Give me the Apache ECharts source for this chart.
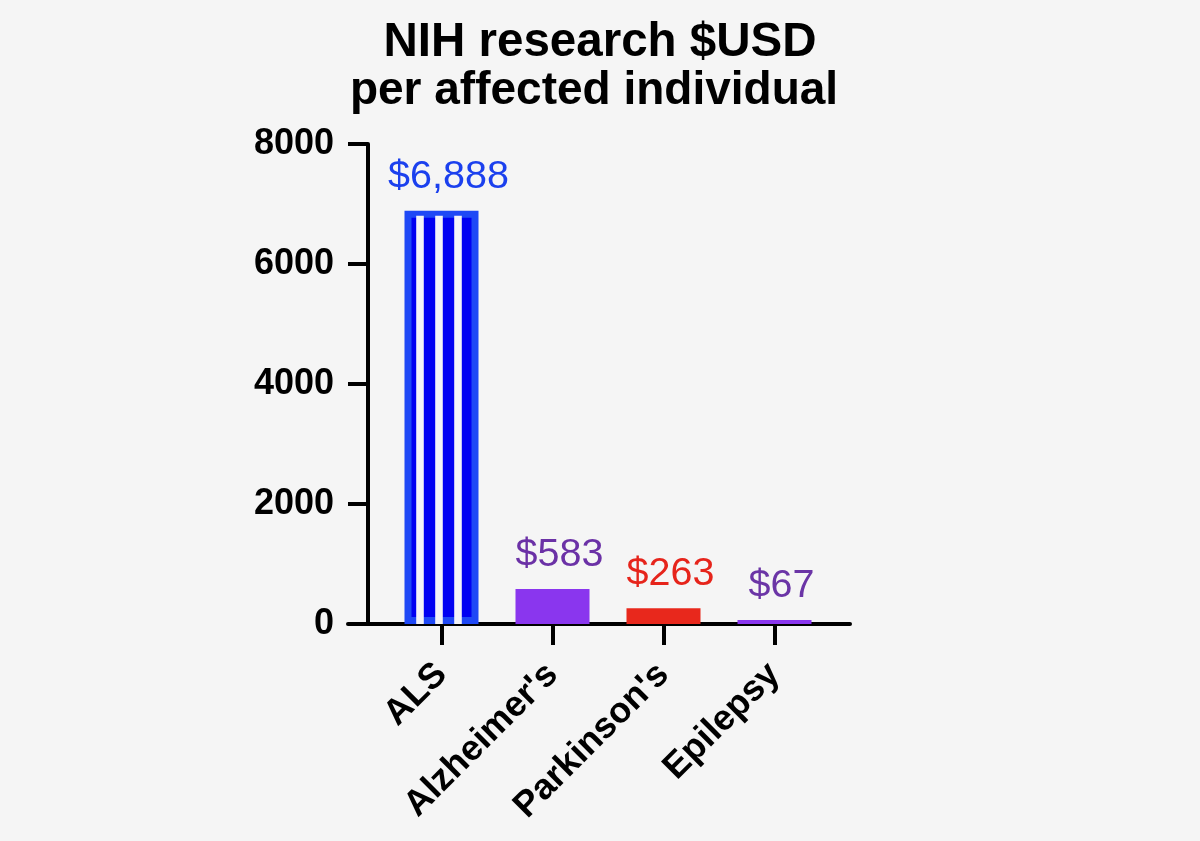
<!DOCTYPE html>
<html lang="en">
<head>
    <meta charset="UTF-8">
    <title>NIH research $USD per affected individual</title>
    <style>
        html, body {
            margin: 0;
            padding: 0;
            background: #f5f5f5;
        }
        #chart {
            width: 1200px;
            height: 841px;
        }
    </style>
    <script src="https://cdn.jsdelivr.net/npm/echarts@6/dist/echarts.min.js"></script>
</head>
<body>
    <div id="chart"></div>

    <script>
        // data
        const categories = ['ALS', "Alzheimer's", "Parkinson's", 'Epilepsy'];
        const dollarsPerPerson = [6888, 583, 263, 67];
        const yTicks = [0, 2000, 4000, 6000, 8000];
        const titleLines = ['NIH research $USD', 'per affected individual'];

        // colours per category
        const barColor = {
            'ALS': '#0000f2',
            "Alzheimer's": '#8a36ee',
            "Parkinson's": '#e8281c',
            'Epilepsy': '#8a36ee'
        };
        const labelColor = {
            'ALS': '#1b40ee',
            "Alzheimer's": '#6b31a6',
            "Parkinson's": '#e6241b',
            'Epilepsy': '#6b35a6'
        };

        const font = '"Liberation Sans", Arial, Helvetica, sans-serif';

        const chart = echarts.init(document.getElementById('chart'));

        const barData = categories.map((c, i) => {
            const item = {
                value: dollarsPerPerson[i],
                itemStyle: { color: barColor[c] },
                label: { color: labelColor[c] }
            };
            if (c === 'ALS') {
                item.itemStyle.borderColor = '#1e48f6';
                item.itemStyle.borderWidth = 7;
            }
            return item;
        });

        // white stripes inside the ALS bar, placed from the bar's own coords
        const stripeOffsets = [-21.5, -2.5, 16.5];
        function renderStripes(params, api) {
            const top = api.coord([api.value(0), api.value(1)]);
            const base = api.coord([api.value(0), 0]);
            const children = stripeOffsets.map(dx => ({
                type: 'rect',
                shape: { x: top[0] + dx - 3.8, y: top[1] + 5, width: 7.6, height: base[1] - top[1] - 5 },
                style: { fill: '#f3f3f8' }
            }));
            return { type: 'group', children: children };
        }

        const titleStyle = {
            fontFamily: font,
            fontWeight: 'bold',
            color: '#000'
        };

        const option = {
            backgroundColor: '#f5f5f5',
            animation: false,
            title: [
                {
                    text: titleLines[0],
                    left: 595,
                    top: 14,
                    textAlign: 'center',
                    textStyle: Object.assign({ fontSize: 47.5 }, titleStyle)
                },
                {
                    text: titleLines[1],
                    left: 589,
                    top: 63,
                    textAlign: 'center',
                    textStyle: Object.assign({ fontSize: 46 }, titleStyle)
                }
            ],
            grid: [
                { left: 386, width: 444, top: 144, bottom: 217 },
                { left: 348, right: 350, top: 144, bottom: 217 }
            ],
            xAxis: [
                {
                    type: 'category',
                    gridIndex: 0,
                    data: categories,
                    axisLine: { show: false },
                    axisTick: {
                        show: true,
                        alignWithLabel: true,
                        length: 21,
                        lineStyle: { color: '#000', width: 4 }
                    },
                    axisLabel: {
                        rotate: 45,
                        margin: 45,
                        interval: 0,
                        fontFamily: font,
                        fontWeight: 'bold',
                        fontSize: 36,
                        color: '#000'
                    }
                },
                {
                    // long baseline running past the bars on both sides
                    type: 'value',
                    gridIndex: 1,
                    min: 0,
                    max: 1,
                    axisLine: { show: true, onZero: false, lineStyle: { color: '#000', width: 4 } },
                    axisTick: { show: false },
                    axisLabel: { show: false },
                    splitLine: { show: false }
                }
            ],
            yAxis: [
                {
                    type: 'value',
                    gridIndex: 0,
                    min: yTicks[0],
                    max: yTicks[yTicks.length - 1],
                    interval: yTicks[1] - yTicks[0],
                    offset: 18,
                    axisLine: { show: true, lineStyle: { color: '#000', width: 4 } },
                    axisTick: { show: true, length: 20, lineStyle: { color: '#000', width: 4 } },
                    axisLabel: {
                        margin: 34,
                        formatter: v => String(v),
                        fontFamily: font,
                        fontWeight: 'bold',
                        fontSize: 36,
                        color: '#000'
                    },
                    splitLine: { show: false }
                },
                {
                    type: 'value',
                    gridIndex: 1,
                    min: 0,
                    max: 1,
                    show: false
                }
            ],
            series: [
                {
                    type: 'bar',
                    xAxisIndex: 0,
                    yAxisIndex: 0,
                    barWidth: 74,
                    data: barData,
                    label: {
                        show: true,
                        position: 'top',
                        distance: 14,
                        offset: [7, 0],
                        fontFamily: font,
                        fontSize: 39.5,
                        formatter: p => '$' + p.value.toLocaleString('en-US')
                    }
                },
                {
                    type: 'custom',
                    xAxisIndex: 0,
                    yAxisIndex: 0,
                    renderItem: renderStripes,
                    data: [[0, dollarsPerPerson[0]]],
                    z: 3,
                    silent: true
                }
            ]
        };

        chart.setOption(option);
    </script>
</body>
</html>
